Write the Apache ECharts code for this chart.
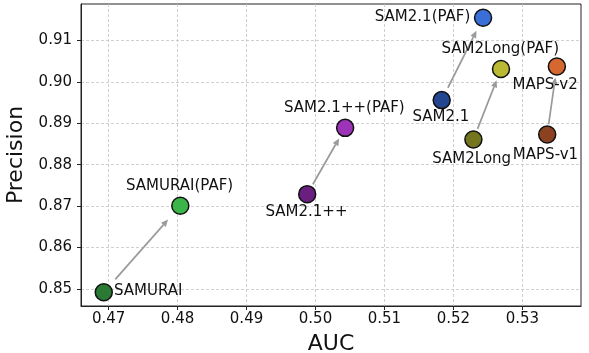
<!DOCTYPE html>
<html>
<head>
<meta charset="utf-8">
<script src="https://cdn.jsdelivr.net/npm/echarts@6/dist/echarts.min.js"></script>
<style>
  html, body { margin: 0; padding: 0; background: #fff; }
  #chart { width: 589px; height: 353px; }
</style>
</head>
<body>
<div id="chart"></div>
<script>
// methods and their scores
var names = ['SAMURAI', 'SAMURAI(PAF)', 'SAM2.1++', 'SAM2.1++(PAF)', 'SAM2.1', 'SAM2.1(PAF)',
             'SAM2Long', 'SAM2Long(PAF)', 'MAPS-v1', 'MAPS-v2'];
var auc = [0.4693, 0.4804, 0.4988, 0.5043, 0.5183, 0.5243, 0.5229, 0.5269, 0.5336, 0.5350];
var precision = [0.8492, 0.8701, 0.8729, 0.8889, 0.8956, 0.9155, 0.8861, 0.9031, 0.8873, 0.9037];
// arrows: [from index, to index]
var arrows = [[0, 1], [2, 3], [4, 5], [6, 7], [8, 9]];
var xTicks = [0.47, 0.48, 0.49, 0.50, 0.51, 0.52, 0.53];
var yTicks = [0.85, 0.86, 0.87, 0.88, 0.89, 0.90, 0.91];

var colors = ['#2a7a36', '#3bb54a', '#6a1f80', '#9d33b9', '#22468f', '#3a6fd7',
              '#74751f', '#b9b933', '#8c4121', '#d5672f'];
// label placement relative to marker centre (px)
var labelCfg = [
  {align: 'left', offset: [11, 0]},
  {align: 'center', offset: [0, -19]},
  {align: 'center', offset: [0, 19]},
  {align: 'center', offset: [0, -19]},
  {align: 'center', offset: [0, 18]},
  {align: 'right', offset: [-12, 0]},
  {align: 'center', offset: [-1, 20]},
  {align: 'center', offset: [0, -19]},
  {align: 'center', offset: [-1, 21]},
  {align: 'center', offset: [-11, 19]}
];

var font = 'DejaVu Sans';
var symSize = 17;
var chart = echarts.init(document.getElementById('chart'));

var points = names.map(function (n, i) {
  var c = symSize / 2;
  return {
    name: n,
    value: [auc[i], precision[i]],
    itemStyle: {color: colors[i]},
    label: {
      position: [c + labelCfg[i].offset[0], c + labelCfg[i].offset[1]],
      align: labelCfg[i].align, verticalAlign: 'middle'
    }
  };
});

var arrowData = arrows.map(function (a) {
  return [auc[a[0]], precision[a[0]], auc[a[1]], precision[a[1]]];
});

function renderArrow(params, api) {
  var p1 = api.coord([api.value(0), api.value(1)]);
  var p2 = api.coord([api.value(2), api.value(3)]);
  var dx = p2[0] - p1[0], dy = p2[1] - p1[1];
  var len = Math.sqrt(dx * dx + dy * dy);
  var ux = dx / len, uy = dy / len;
  var s = [p1[0] + dx * 0.15, p1[1] + dy * 0.15];
  var e = [p2[0] - dx * 0.16, p2[1] - dy * 0.16];
  var hl = 7, hw = 3.2;
  var b = [e[0] - ux * hl, e[1] - uy * hl];
  return {
    type: 'group',
    children: [
      {type: 'line', shape: {x1: s[0], y1: s[1], x2: b[0], y2: b[1]},
       style: {stroke: '#9a9a9a', lineWidth: 1.7}},
      {type: 'polygon',
       shape: {points: [e, [b[0] - uy * hw, b[1] + ux * hw], [b[0] + uy * hw, b[1] - ux * hw]]},
       style: {fill: '#9a9a9a'}}
    ]
  };
}

var option = {
  animation: false,
  backgroundColor: '#fff',
  textStyle: {fontFamily: font},
  grid: {left: 81, right: 8, top: 4, bottom: 47, show: true, borderColor: '#222', borderWidth: 1,
         containLabel: false, outerBoundsMode: 'none'},
  xAxis: {
    type: 'value', min: 0.466, max: 0.5385,
    name: 'AUC', nameLocation: 'middle', nameGap: 27,
    nameTextStyle: {fontSize: 22, color: '#111', fontFamily: font},
    axisLine: {show: true, lineStyle: {color: '#222', width: 1}},
    axisTick: {show: true, length: 4, lineStyle: {color: '#222'}, customValues: xTicks},
    axisLabel: {fontSize: 15, color: '#111', margin: 6, fontFamily: font, customValues: xTicks,
      formatter: function (v) { return v.toFixed(2); }},
    splitLine: {show: true, lineStyle: {color: '#c4c4c4', type: [3, 2], width: 0.8}}
  },
  yAxis: {
    type: 'value', min: 0.8459, max: 0.9188,
    name: 'Precision', nameLocation: 'middle', nameGap: 48,
    nameTextStyle: {fontSize: 22, color: '#111', fontFamily: font},
    axisLine: {show: true, lineStyle: {color: '#222', width: 1}},
    axisTick: {show: true, length: 4, lineStyle: {color: '#222'}, customValues: yTicks},
    axisLabel: {fontSize: 15, color: '#111', margin: 9, fontFamily: font, customValues: yTicks,
      formatter: function (v) { return v.toFixed(2); }},
    splitLine: {show: true, lineStyle: {color: '#c4c4c4', type: [3, 2], width: 0.8}}
  },
  series: [
    {
      type: 'custom', z: 2,
      renderItem: renderArrow,
      data: arrowData,
      silent: true
    },
    {
      type: 'scatter', z: 3,
      symbolSize: symSize,
      itemStyle: {borderColor: '#111', borderWidth: 1.5, opacity: 1},
      label: {
        show: true,
        fontSize: 15, color: '#111', fontFamily: font,
        formatter: function (p) { return p.name; }
      },
      labelLayout: {hideOverlap: false},
      data: points
    }
  ]
};
chart.setOption(option);
</script>
</body>
</html>
